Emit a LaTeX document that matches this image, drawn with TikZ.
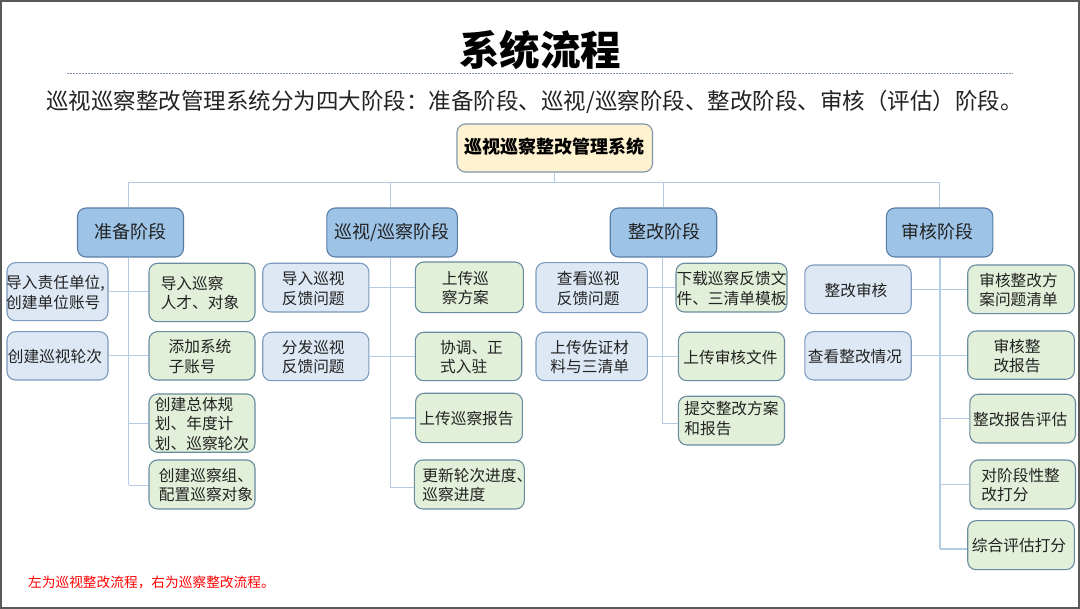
\documentclass[tikz,border=0pt]{standalone}
\usepackage{fontspec}
\setmainfont{Noto Sans CJK SC}
\definecolor{linkc}{HTML}{B4CBE6}
\definecolor{txtc}{HTML}{222222}
\tikzset{
  basebox/.style={rounded corners=8.5pt,line width=1.1pt,inner sep=0pt,align=left,text=txtc,
    font=\fontsize{15.7pt}{19.3pt}\selectfont},
  rootbox/.style={basebox,fill={rgb,255:red,255;green,242;blue,208},draw={rgb,255:red,125;green,150;blue,170},
    font=\bfseries\fontsize{18pt}{22pt}\selectfont,text=black},
  stagebox/.style={basebox,fill={rgb,255:red,157;green,195;blue,230},draw={rgb,255:red,90;green,125;blue,165},
    font=\fontsize{18pt}{22pt}\selectfont},
  bluebox/.style={basebox,fill={rgb,255:red,222;green,232;blue,245},draw={rgb,255:red,125;green,155;blue,190}},
  greenbox/.style={basebox,fill={rgb,255:red,226;green,239;blue,217},draw={rgb,255:red,105;green,140;blue,160}},
  linkline/.style={draw=linkc,line width=1.2pt},
  titletext/.style={inner sep=0pt,font=\bfseries\fontsize{40.5pt}{44pt}\selectfont,text=black},
  subtext/.style={inner sep=0pt,font=\fontsize{22.5pt}{26pt}\selectfont,text=txtc},
  notetext/.style={inner sep=0pt,anchor=west,font=\fontsize{13.7pt}{17pt}\selectfont,text=red}
}
\newcommand{\droptext}{6.5pt}
\newcommand{\boxat}[8][0]{%
  \pgfmathsetmacro{\mycx}{(#4+#6)/2}\pgfmathsetmacro{\mycy}{(#5+#7)/2}%
  \node[#3,minimum width={(#6-#4)*1pt},minimum height={(#7-#5)*1pt}] (#2) at (\mycx,\mycy)
    {\kern#1pt\raisebox{-\droptext}[0pt][0pt]{\begin{tabular}{@{}l@{}}#8\end{tabular}}\kern-#1pt};}
\begin{document}
\begin{tikzpicture}[x=1pt,y=-1pt]
\useasboundingbox (0,0) rectangle (1080,609);
\fill[white] (0,0) rectangle (1080,609);
\draw[black!65,line width=1.6pt] (0.8,0.8) rectangle (1079.2,608.2);

\node[titletext] (title) at (540,50.5) {系统流程};
\coordinate (ruleL) at (67,74);
\coordinate (ruleR) at (1013,74);
\draw[draw={rgb,255:red,130;green,145;blue,165},line width=1pt,dash pattern=on 2pt off 1pt] (ruleL) -- (ruleR);
\node[subtext,anchor=west] (sub) at (46,102) {巡视巡察整改管理系统分为四大阶段\symbol{"FF1A}准备阶段、巡视/巡察阶段、整改阶段、审核\symbol{"FF08}评估\symbol{"FF09}阶段。};

\coordinate (hubL) at (128.8,182.3);
\coordinate (hubR) at (939.4,182.3);
\coordinate (t1) at (128.8,485.3);
\coordinate (t2) at (390.8,487.7);
\coordinate (t3) at (662.2,423.3);
\coordinate (t4) at (940,549);

\renewcommand{\droptext}{5.5pt}
\boxat{root}{rootbox}{457}{124}{652.5}{172}{巡视巡察整改管理系统}
\boxat{s1}{stagebox}{77.5}{208}{183.5}{257}{准备阶段}
\boxat{s2}{stagebox}{326.8}{208}{457.3}{257}{巡视/巡察阶段}
\boxat[1]{s3}{stagebox}{610.2}{208}{716.7}{257}{整改阶段}
\boxat[-2]{s4}{stagebox}{886.4}{208}{992.8}{257}{审核阶段}
\renewcommand{\droptext}{6.5pt}

\boxat[-2]{a1}{bluebox}{7}{262.7}{108}{320.7}{导入责任单位,\\创建单位账号}
\boxat[-2.5]{a2}{bluebox}{7}{331.7}{108}{380}{创建巡视轮次}
\boxat[-2]{b1}{greenbox}{149}{263.3}{255}{321.7}{导入巡察\\人才、对象}
\boxat[-2]{b2}{greenbox}{149}{331.7}{255}{380}{添加系统\\子账号}
\boxat{b3}{greenbox}{149}{394}{255}{452.3}{创建总体规\\划、年度计\\划、巡察轮次}
\boxat[4]{b4}{greenbox}{149}{460}{255}{509}{创建巡察组、\\配置巡察对象}

\boxat[-2.5]{c1}{bluebox}{262.7}{263.3}{368.8}{312}{导入巡视\\反馈问题}
\boxat[-2.5]{c2}{bluebox}{262.7}{332.3}{368.8}{380.7}{分发巡视\\反馈问题}
\boxat[-4]{d1}{greenbox}{415.3}{262}{523.4}{312.7}{上传巡\\察方案}
\boxat[3]{d2}{greenbox}{415.3}{332.3}{521.7}{380.7}{协调、正\\式入驻}
\boxat[-2.5]{d3}{greenbox}{415.6}{393.3}{522.4}{442.7}{上传巡察报告}
\boxat[8]{d4}{greenbox}{416.3}{460}{522.4}{509}{更新轮次进度、\\巡察进度}

\boxat[-3.5]{e1}{bluebox}{536}{262.7}{647.4}{312.7}{查看巡视\\反馈问题}
\boxat[-2]{e2}{bluebox}{536}{332.3}{647.4}{380.7}{上传佐证材\\料与三清单}
\boxat{f1}{greenbox}{676}{263.3}{787}{312}{下载巡察反馈文\\件、三清单模板}
\boxat[-1]{f2}{greenbox}{678.4}{332.3}{784.5}{380.7}{上传审核文件}
\renewcommand{\droptext}{3.5pt}
\boxat{f3}{greenbox}{678.4}{396.3}{784.5}{445}{提交整改方案\\和报告}
\renewcommand{\droptext}{6.5pt}

\boxat[-2]{g1}{bluebox}{804.8}{265}{911.2}{313.7}{整改审核}
\boxat[-3]{g2}{bluebox}{804.8}{331.7}{911.2}{380}{查看整改情况}
\boxat[-2.5]{h1}{greenbox}{967.7}{265}{1074.4}{313.7}{审核整改方\\案问题清单}
\boxat[-4]{h2}{greenbox}{967.7}{331}{1074.4}{379.3}{审核整\\改报告}
\boxat[-2.5]{h3}{greenbox}{969.8}{394.3}{1075.5}{443}{整改报告评估}
\boxat[-2]{h4}{greenbox}{969.8}{460}{1075.5}{509}{对阶段性整\\改打分}
\boxat[-2]{h5}{greenbox}{967.7}{520.7}{1074.4}{569.7}{综合评估打分}

\node[notetext] (note) at (28,582.5) {左为巡视整改流程\symbol{"FF0C}右为巡察整改流程。};

% tree
\draw[linkline] (hubL) -- (hubR);
\draw[linkline] (root.south) -- (root.south |- hubL);
\draw[linkline] (hubL) -- (hubL |- s1.north);
\draw[linkline] (s2.north -| t2) -- (t2 |- hubL);
\draw[linkline] (s3.north) -- (s3.north |- hubL);
\draw[linkline] (hubR) -- (hubR |- s4.north);
\draw[linkline] (s1.south -| t1) -- (t1);
\draw[linkline] (s2.south -| t2) -- (t2);
\draw[linkline] (s3.south -| t3) -- (t3);
\draw[linkline] (s4.south -| t4) -- (t4);
% branches
\draw[linkline] (a1.east) -- (a1.east -| b1.west);
\draw[linkline] (a2.east) -- (a2.east -| b2.west);
\draw[linkline] (t1 |- b3.west) -- (b3.west);
\draw[linkline] (t1) -- (t1 -| b4.west);
\draw[linkline] (c1.east) -- (c1.east -| d1.west);
\draw[linkline] (c2.east) -- (c2.east -| d2.west);
\draw[linkline] (t2 |- d3.west) -- (d3.west);
\draw[linkline] (t2) -- (t2 -| d4.west);
\draw[linkline] (e1.east) -- (e1.east -| f1.west);
\draw[linkline] (e2.east) -- (e2.east -| f2.west);
\draw[linkline] (t3) -- (t3 -| f3.west);
\draw[linkline] (g1.east) -- (g1.east -| h1.west);
\draw[linkline] (g2.east) -- (g2.east -| h2.west);
\draw[linkline] (t4 |- h3.west) -- (h3.west);
\draw[linkline] (t4 |- h4.west) -- (h4.west);
\draw[linkline] (t4) -- (t4 -| h5.west);
\end{tikzpicture}
\end{document}
